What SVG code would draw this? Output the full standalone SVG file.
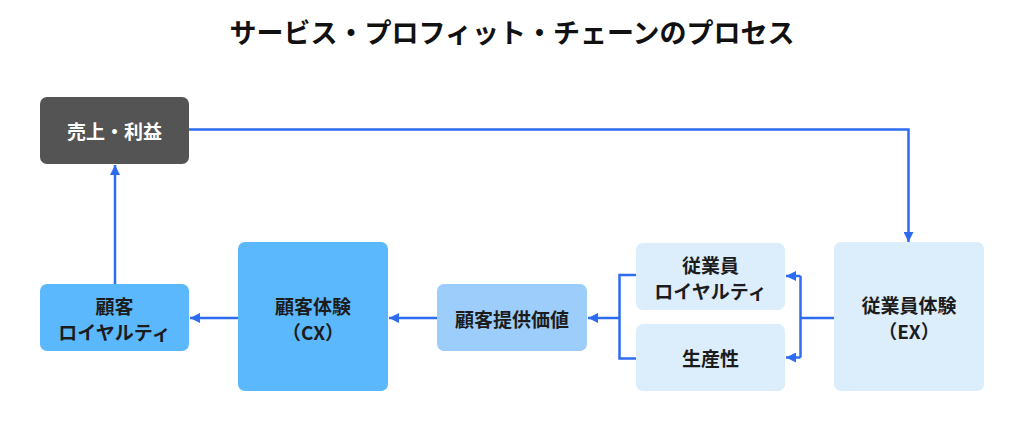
<svg xmlns="http://www.w3.org/2000/svg" width="1024" height="424" viewBox="0 0 1024 424">
<style>
text{font-family:"Noto Sans CJK JP","Noto Sans",sans-serif;font-weight:bold;text-anchor:middle;dominant-baseline:central}
.t{font-size:19px;fill:#1c1c1c}
.w{fill:#ffffff}
.c{fill:none;stroke:#2d6cf0;stroke-width:2.5}
</style>
<defs>
<marker id="a" viewBox="0 0 10 10" refX="10" refY="5" markerWidth="10" markerHeight="10" markerUnits="userSpaceOnUse" orient="auto">
<path d="M0,0 L10,5 L0,10 z" fill="#2d6cf0"/>
</marker>
</defs>
<rect width="1024" height="424" fill="#ffffff"/>
<text x="512" y="31" style="font-size:27px;fill:#111">サービス・プロフィット・チェーンのプロセス</text>
<g id="connectors">
<path class="c" d="M189,129.5 H908.5 V242" marker-end="url(#a)"/>
<path class="c" d="M834,318 H800.5"/>
<path class="c" d="M800.5,276 V357.5"/>
<path class="c" d="M800.5,276 H786" marker-end="url(#a)"/>
<path class="c" d="M800.5,357.5 H786" marker-end="url(#a)"/>
<path class="c" d="M636,275 H619.5 V358.5 H636"/>
<path class="c" d="M619.5,318 H588" marker-end="url(#a)"/>
<path class="c" d="M437,318 H389" marker-end="url(#a)"/>
<path class="c" d="M238,318 H190" marker-end="url(#a)"/>
<path class="c" d="M115,284 V165" marker-end="url(#a)"/>
</g>
<g id="n-sales"><rect x="40" y="97" width="149" height="67" rx="7" fill="#545454"/><text class="t w" x="114.5" y="130.5">売上・利益</text></g>
<g id="n-cloyalty"><rect x="40" y="284" width="149" height="67" rx="7" fill="#5bb8fd"/><text class="t" x="114.5" y="305.5">顧客</text><text class="t" x="114.5" y="331.5">ロイヤルティ</text></g>
<g id="n-cx"><rect x="238" y="242" width="150" height="149" rx="7" fill="#5bb8fd"/><text class="t" x="313" y="305.5">顧客体験</text><text class="t" x="313" y="331.5">（CX）</text></g>
<g id="n-value"><rect x="437" y="284" width="150" height="67" rx="7" fill="#9ccdfb"/><text class="t" x="512" y="318">顧客提供価値</text></g>
<g id="n-eloyalty"><rect x="636" y="243" width="149" height="67" rx="7" fill="#dcedfc"/><text class="t" x="710.5" y="264.5">従業員</text><text class="t" x="710.5" y="290.5">ロイヤルティ</text></g>
<g id="n-prod"><rect x="636" y="324" width="149" height="67" rx="7" fill="#dcedfc"/><text class="t" x="710.5" y="357.5">生産性</text></g>
<g id="n-ex"><rect x="834" y="242" width="150" height="149" rx="7" fill="#dcedfc"/><text class="t" x="909" y="304.5">従業員体験</text><text class="t" x="909" y="330.5">（EX）</text></g>
</svg>
